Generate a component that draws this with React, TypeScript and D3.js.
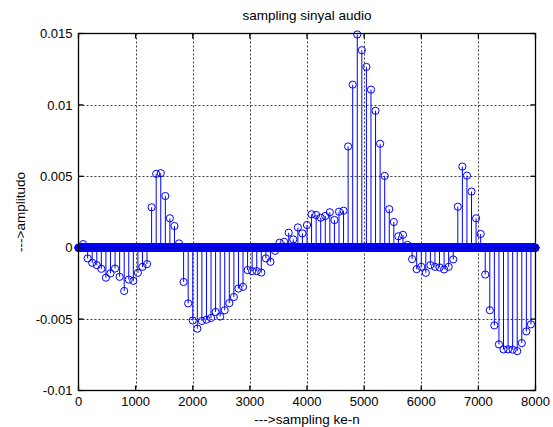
import React, { useMemo } from "react";
import * as d3 from "d3";

// Sampled audio signal: an impulse every PULSE_PERIOD samples, zero elsewhere.
const TOTAL_SAMPLES = 8000;
const PULSE_PERIOD = 80;

// Amplitude of the pulses at n = 80, 160, ..., 7920
const pulseValues = [
  0.00025, -0.00075, -0.00106, -0.00122, -0.00148, -0.0021, -0.0018, -0.00146, -0.00204, -0.00303,
  -0.00223, -0.00232, -0.00176, -0.00134, -0.00115, 0.00283, 0.00517, 0.00522, 0.00362, 0.00206,
  0.00152, 0.0003, -0.0024, -0.0039, -0.0051, -0.00567, -0.00513, -0.00504, -0.00492, -0.0045,
  -0.00482, -0.00438, -0.00388, -0.00345, -0.00286, -0.00274, -0.00157, -0.00164, -0.00164, -0.00174,
  -0.00075, -0.00099, -0.00022, 0.00035, 0.00041, 0.00105, 0.00058, 0.00142, 0.001, 0.00159,
  0.00234, 0.00229, 0.0021, 0.00222, 0.00248, 0.00194, 0.00252, 0.00259, 0.00709, 0.01142,
  0.01493, 0.01383, 0.01266, 0.01107, 0.00959, 0.00728, 0.00503, 0.0027, 0.0018, 0.0008,
  0.0009, 0.0002, -0.0008, -0.0015, -0.00134, -0.00176, -0.00122, -0.00134, -0.00138, -0.00152,
  -0.00134, -0.00082, 0.00287, 0.00568, 0.00505, 0.00393, 0.00206, 0.00096, -0.00188, -0.00438,
  -0.00544, -0.00677, -0.00712, -0.00712, -0.00714, -0.00724, -0.00668, -0.00586, -0.00537,
];

const xTicks = [0, 1000, 2000, 3000, 4000, 5000, 6000, 7000, 8000];
const yTicks = [-0.01, -0.005, 0, 0.005, 0.01, 0.015];
const yTickLabels = ["-0.01", "-0.005", "0", "0.005", "0.01", "0.015"];

const titleText = "sampling sinyal audio";
const xLabelText = "--->sampling ke-n";
const yLabelText = "--->amplitudo";

const W = 553;
const H = 427;
const FONT = "'Liberation Sans', Arial, Helvetica, sans-serif";
const BLUE = "#0000ff";

export default function App() {
  const x = d3.scaleLinear().domain([0, 8000]).range([78.5, 535.5]);
  const y = d3.scaleLinear().domain([-0.01, 0.015]).range([390.5, 33.5]);

  const samples = useMemo(
    () =>
      d3.range(TOTAL_SAMPLES).map((n) => {
        const k = n / PULSE_PERIOD;
        const v = n > 0 && n % PULSE_PERIOD === 0 ? pulseValues[k - 1] ?? 0 : 0;
        return { n, v };
      }),
    []
  );

  const [x0, x1] = x.range();
  const [y0, y1] = y.range();
  const tickLen = 5;

  return (
    <svg
      width={W}
      height={H}
      style={{ position: "fixed", left: 0, top: 0, background: "#fff" }}
      fontFamily={FONT}
    >
      <rect x={0} y={0} width={W} height={H} fill="#fff" />

      {/* grid */}
      <g stroke="#000" strokeWidth={1} strokeDasharray="2,2" opacity={0.75}>
        {xTicks.slice(1, -1).map((t) => (
          <line key={"gx" + t} x1={Math.round(x(t)) + 0.5} x2={Math.round(x(t)) + 0.5} y1={y1} y2={y0} />
        ))}
        {yTicks.slice(1, -1).map((t) => (
          <line key={"gy" + t} x1={x0} x2={x1} y1={Math.round(y(t)) + 0.5} y2={Math.round(y(t)) + 0.5} />
        ))}
      </g>

      {/* stems */}
      <g stroke={BLUE} strokeWidth={1}>
        {samples
          .filter((d) => d.v !== 0)
          .map((d) => (
            <line key={"s" + d.n} x1={x(d.n)} x2={x(d.n)} y1={y(0)} y2={y(d.v)} />
          ))}
      </g>

      {/* markers */}
      <g stroke={BLUE} strokeWidth={1} fill="none">
        {samples.map((d) => (
          <circle key={"c" + d.n} cx={x(d.n)} cy={y(d.v)} r={3.6} />
        ))}
      </g>

      {/* baseline */}
      <line x1={x0} x2={x1} y1={y(0)} y2={y(0)} stroke="#000" strokeWidth={1} />

      {/* axes box and ticks */}
      <g stroke="#000" strokeWidth={1.3} fill="none">
        <rect x={x0} y={y1} width={x1 - x0} height={y0 - y1} />
        {xTicks.map((t) => (
          <g key={"tx" + t}>
            <line x1={x(t)} x2={x(t)} y1={y0} y2={y0 - tickLen} />
            <line x1={x(t)} x2={x(t)} y1={y1} y2={y1 + tickLen} />
          </g>
        ))}
        {yTicks.map((t) => (
          <g key={"ty" + t}>
            <line x1={x0} x2={x0 + tickLen} y1={y(t)} y2={y(t)} />
            <line x1={x1} x2={x1 - tickLen} y1={y(t)} y2={y(t)} />
          </g>
        ))}
      </g>

      {/* tick labels */}
      <g fontSize={13} fill="#000">
        {xTicks.map((t) => (
          <text key={"lx" + t} x={x(t)} y={406} textAnchor="middle">
            {String(t)}
          </text>
        ))}
        {yTicks.map((t, i) => (
          <text key={"ly" + t} x={72.5} y={y(t) + 4.6} textAnchor="end">
            {yTickLabels[i]}
          </text>
        ))}
      </g>

      {/* titles */}
      <text x={(x0 + x1) / 2} y={19.5} textAnchor="middle" fontSize={13.5} fill="#000">
        {titleText}
      </text>
      <text x={(x0 + x1) / 2} y={423.5} textAnchor="middle" fontSize={13.5} fill="#000">
        {xLabelText}
      </text>
      <text
        transform={`translate(25, ${(y0 + y1) / 2}) rotate(-90)`}
        textAnchor="middle"
        fontSize={13.5}
        fill="#000"
      >
        {yLabelText}
      </text>
    </svg>
  );
}
